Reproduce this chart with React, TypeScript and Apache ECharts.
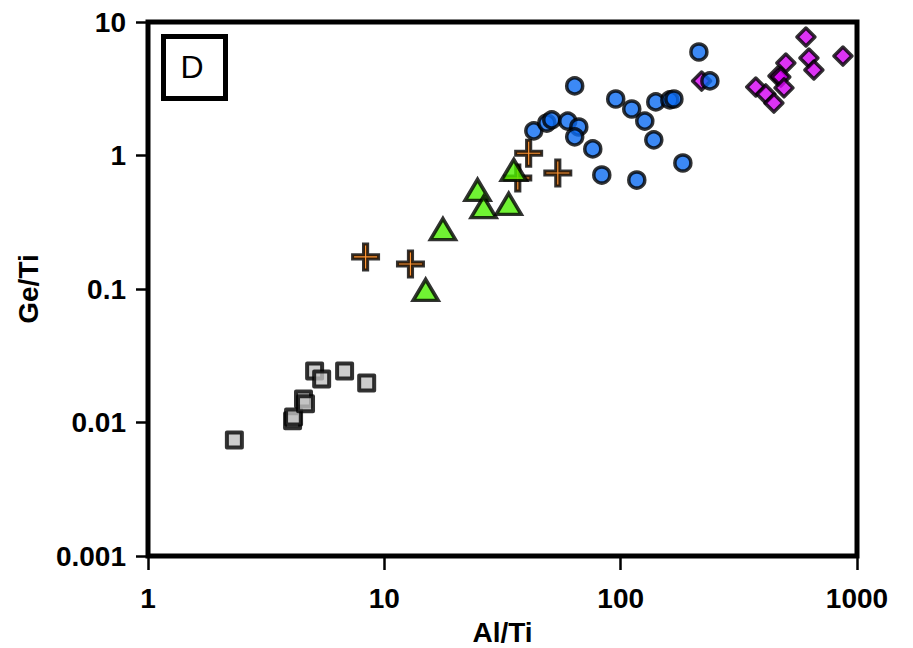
import React, { useEffect, useRef } from "react";
import * as echarts from "echarts";

// Gray squares
const squareX = [2.32, 4.09, 4.13, 4.55, 4.64, 5.07, 5.43, 6.79, 8.42];
const squareY = [0.0074, 0.0103, 0.011, 0.015, 0.0138, 0.0243, 0.0212, 0.0243, 0.0198];

// Orange crosses
const crossX = [8.33, 12.9, 36.7, 40.8, 54.2];
const crossY = [0.174, 0.154, 0.678, 1.04, 0.74];

// Green triangles
const triX = [35.3, 24.8, 26.3, 33.6, 17.7, 14.96];
const triY = [0.779, 0.552, 0.411, 0.434, 0.281, 0.0984];

// Purple diamonds
const diaX = [608, 872, 626, 657, 500, 463, 476, 491, 373, 411, 445, 220];
const diaY = [7.72, 5.56, 5.37, 4.37, 4.93, 3.94, 3.87, 3.21, 3.26, 2.89, 2.47, 3.61];

// Blue circles
const circX = [42.9, 48.7, 51.1, 59.7, 66.5, 63.9, 76.2, 83.2, 95.3, 63.9, 111.4, 126.5, 138.1, 117, 140.8, 161.5, 168, 183.3, 214.3, 238.5];
const circY = [1.53, 1.75, 1.85, 1.81, 1.635, 1.38, 1.12, 0.714, 2.65, 3.32, 2.23, 1.81, 1.31, 0.655, 2.52, 2.61, 2.65, 0.879, 5.96, 3.62];

const xTickLabels = ["1", "10", "100", "1000"];
const yTickLabels = ["0.001", "0.01", "0.1", "1", "10"];

const panelLabel = "D";
const xName = "Al/Ti";
const yName = "Ge/Ti";

const zip = (xs: number[], ys: number[]) => xs.map((x, i) => [x, ys[i]]);

const crossPath = "path://M42,0 L58,0 L58,42 L100,42 L100,58 L58,58 L58,100 L42,100 L42,58 L0,58 L0,42 L42,42 Z";

export default function App() {
  const ref = useRef<HTMLDivElement>(null);
  useEffect(() => {
    if (!ref.current) return;
    const chart = echarts.init(ref.current, null, { renderer: "svg" });
    const font = "Liberation Sans, Arial, sans-serif";
    const border = { borderColor: "#000", borderWidth: 3.5, borderJoin: "round" as const };
    chart.setOption({
      animation: false,
      backgroundColor: "#fff",
      grid: {
        left: 148,
        top: 22,
        width: 709,
        height: 534,
        show: true,
        borderColor: "#000",
        borderWidth: 5,
        backgroundColor: "transparent",
        outerBoundsMode: "none",
        containLabel: false,
      },
      xAxis: {
        type: "log",
        logBase: 10,
        min: 1,
        max: 1000,
        name: xName,
        nameLocation: "middle",
        nameGap: 62,
        nameTextStyle: { fontFamily: font, fontWeight: "bold", fontSize: 28, color: "#000" },
        axisLine: { show: false },
        axisTick: { show: true, inside: false, length: 14, lineStyle: { color: "#000", width: 2.5 } },
        splitLine: { show: false },
        minorTick: { show: false },
        axisLabel: {
          margin: 28,
          fontFamily: font,
          fontWeight: "bold",
          fontSize: 28,
          color: "#000",
          formatter: (_v: number, i: number) => xTickLabels[i] ?? "",
        },
      },
      yAxis: {
        type: "log",
        logBase: 10,
        min: 0.001,
        max: 10,
        name: yName,
        nameLocation: "middle",
        nameGap: 106,
        nameTextStyle: { fontFamily: font, fontWeight: "bold", fontSize: 28, color: "#000" },
        axisLine: { show: false },
        axisTick: { show: true, inside: false, length: 12, lineStyle: { color: "#000", width: 2.5 } },
        splitLine: { show: false },
        axisLabel: {
          margin: 22,
          fontFamily: font,
          fontWeight: "bold",
          fontSize: 28,
          color: "#000",
          formatter: (_v: number, i: number) => yTickLabels[i] ?? "",
        },
      },
      graphic: [
        {
          type: "rect",
          left: 161,
          top: 34,
          shape: { width: 62, height: 62 },
          style: { fill: "#fff", stroke: "#000", lineWidth: 5 },
          z: 10,
        },
        {
          type: "text",
          x: 192,
          y: 67,
          style: {
            text: panelLabel,
            fontFamily: font,
            fontSize: 32,
            fill: "#000",
            align: "center",
            verticalAlign: "middle",
          },
          z: 11,
        },
      ],
      series: [
        {
          type: "scatter",
          data: zip(squareX, squareY),
          symbol: "rect",
          symbolSize: 15,
          itemStyle: { color: "#c0c0c0", ...border, borderWidth: 4 },
          z: 2,
        },
        {
          type: "scatter",
          data: zip(crossX, crossY),
          symbol: crossPath,
          symbolSize: 26,
          itemStyle: { color: "#ff7b00", borderColor: "#000", borderWidth: 3, borderJoin: "miter" },
          z: 3,
        },
        {
          type: "scatter",
          data: zip(triX, triY),
          symbol: "triangle",
          symbolSize: [25, 21],
          itemStyle: { color: "#4cf000", ...border, borderJoin: "miter" },
          z: 4,
        },
        {
          type: "scatter",
          data: zip(diaX, diaY),
          symbol: "diamond",
          symbolSize: 18,
          itemStyle: { color: "#d400f2", ...border },
          z: 5,
        },
        {
          type: "scatter",
          data: zip(circX, circY),
          symbol: "circle",
          symbolSize: 16,
          itemStyle: { color: "#0b6cf2", ...border },
          z: 6,
        },
      ],
    });
    return () => chart.dispose();
  }, []);
  return <div ref={ref} style={{ width: 913, height: 648, position: "absolute", left: 0, top: 0 }} />;
}
